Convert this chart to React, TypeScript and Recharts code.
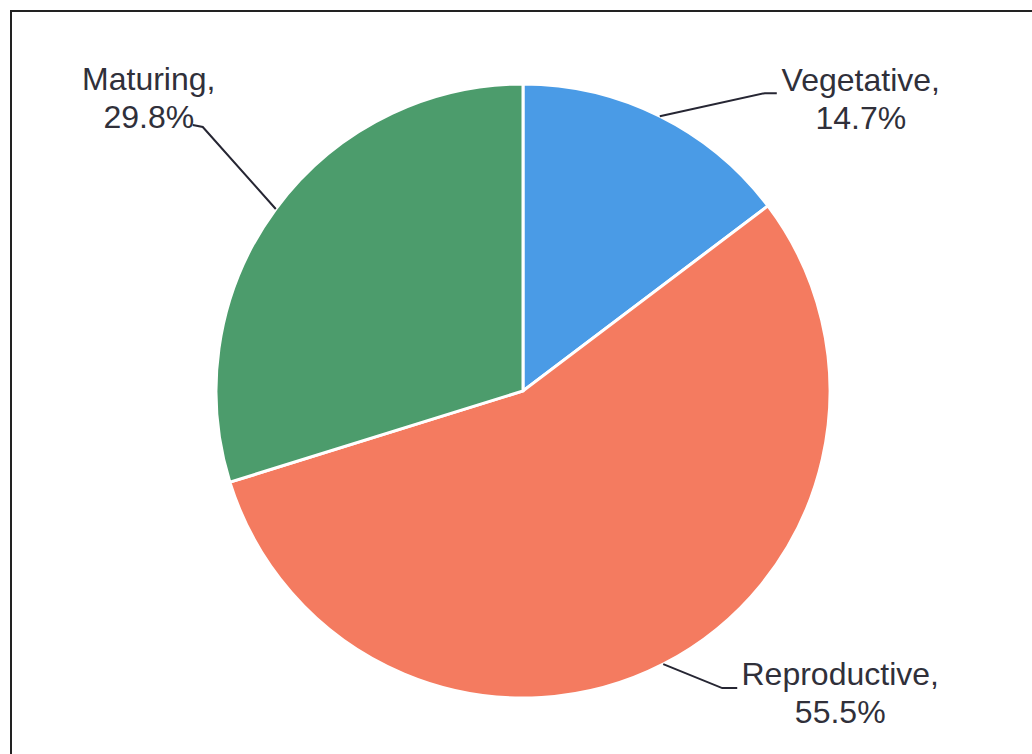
import { PieChart, Pie, Cell } from 'recharts'

const stages = ['Vegetative', 'Reproductive', 'Maturing']
const shares = [14.7, 55.5, 29.8]
const stageColors = ['#4a9be6', '#f47b60', '#4c9c6c']

const data = stages.map((name, i) => ({ name, value: shares[i] }))

// label layout, offsets from the point where the slice's mid-angle meets the rim
const labelOffsets: Record<string, { elbow: [number, number]; end: [number, number]; text: [number, number] }> = {
  Vegetative: { elbow: [105, -23], end: [117, -23], text: [201, -25] },
  Reproductive: { elbow: [59, 24], end: [74, 24], text: [177, 21] },
  Maturing: { elbow: [-73, -82], end: [-83, -84], text: [-127, -119] },
}

const RAD = Math.PI / 180

function renderLabel(props: any) {
  const { cx, cy, midAngle, outerRadius, name, percent } = props
  const ox = cx + outerRadius * Math.cos(-midAngle * RAD)
  const oy = cy + outerRadius * Math.sin(-midAngle * RAD)
  const o = labelOffsets[name]
  const tx = ox + o.text[0]
  const ty = oy + o.text[1]
  return (
    <g key={name}>
      <polyline
        points={`${ox},${oy} ${ox + o.elbow[0]},${oy + o.elbow[1]} ${ox + o.end[0]},${oy + o.end[1]}`}
        fill="none"
        stroke="#262633"
        strokeWidth={2}
      />
      <text
        x={tx}
        y={ty}
        textAnchor="middle"
        fill="#30303a"
        fontSize={32}
        fontFamily="'Liberation Sans', Arial, sans-serif"
      >
        <tspan x={tx} dy={0}>{name},</tspan>
        <tspan x={tx} dy={38}>{(percent * 100).toFixed(1)}%</tspan>
      </text>
    </g>
  )
}

export default function App() {
  return (
    <div style={{ position: 'absolute', left: 0, top: 0, width: 1032, height: 754, background: '#fff', overflow: 'hidden' }}>
      <div
        style={{
          position: 'absolute',
          left: 10,
          top: 10,
          width: 1040,
          height: 770,
          border: '2px solid #222',
          boxSizing: 'border-box',
        }}
      />
      <PieChart
        width={1032}
        height={754}
        margin={{ top: 0, right: 0, bottom: 0, left: 0 }}
        style={{ position: 'absolute', left: 0, top: 0 }}
      >
        <Pie
          data={data}
          dataKey="value"
          nameKey="name"
          cx={523}
          cy={391}
          outerRadius={307}
          startAngle={90}
          endAngle={-270}
          stroke="#ffffff"
          strokeWidth={3}
          label={renderLabel}
          labelLine={false}
          isAnimationActive={false}
        >
          {data.map((d, i) => (
            <Cell key={d.name} fill={stageColors[i]} />
          ))}
        </Pie>
      </PieChart>
    </div>
  )
}
